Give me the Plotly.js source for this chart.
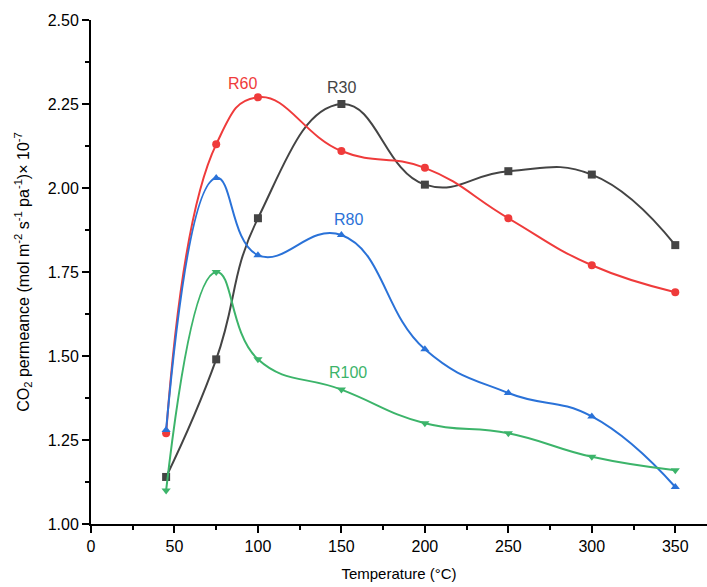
<!DOCTYPE html>
<html><head><meta charset="utf-8">
<script src="https://cdn.plot.ly/plotly-3.0.1.min.js"></script>
<style>body{margin:0;background:#fff}#c{width:707px;height:587px}</style>
</head><body><div id="c"></div>
<script>
const temps = [45, 75, 100, 150, 200, 250, 300, 350];
const r30 = [1.14, 1.49, 1.91, 2.25, 2.01, 2.05, 2.04, 1.83];
const r60 = [1.27, 2.13, 2.27, 2.11, 2.06, 1.91, 1.77, 1.69];
const r80 = [1.28, 2.03, 1.80, 1.86, 1.52, 1.39, 1.32, 1.11];
const r100 = [1.10, 1.75, 1.49, 1.40, 1.30, 1.27, 1.20, 1.16];
const names = ["R30", "R60", "R80", "R100"];

const colors = {R30: "#444444", R60: "#ef3b3b", R80: "#2a72d8", R100: "#3cb46a"};
const symbols = {R30: "square", R60: "circle", R80: "triangle-up", R100: "triangle-down"};
const series = {R30: r30, R60: r60, R80: r80, R100: r100};

const traces = names.map(n => ({
  x: temps, y: series[n], name: n, type: "scatter", mode: "lines+markers",
  line: {color: colors[n], width: 2, shape: "spline", smoothing: 1.3},
  marker: {color: colors[n], symbol: symbols[n], size: 8},
  cliponaxis: false
}));

const labelPos = {R60: [91, 2.31], R30: [150, 2.30], R80: [154, 1.905], R100: [154, 1.452]};
const annotations = names.map(n => ({
  x: labelPos[n][0], y: labelPos[n][1], text: n, showarrow: false,
  font: {family: "Liberation Sans, Arial, sans-serif", size: 16, color: colors[n]}
}));

const layout = {
  width: 707, height: 587,
  margin: {l: 91, r: 0, t: 20, b: 63},
  paper_bgcolor: "#fff", plot_bgcolor: "#fff",
  showlegend: false,
  font: {family: "Liberation Sans, Arial, sans-serif", size: 16, color: "#000"},
  xaxis: {
    range: [0, 369], tickmode: "linear", tick0: 0, dtick: 50,
    showgrid: false, zeroline: false, showline: true, linecolor: "#000", linewidth: 2,
    ticks: "outside", ticklen: 7, tickwidth: 2, tickcolor: "#000",
    minor: {dtick: 25, ticks: "outside", ticklen: 4, tickwidth: 2, tickcolor: "#000", showgrid: false},
    title: {text: "Temperature (°C)", standoff: 14, font: {size: 15}},
    tickfont: {size: 16}
  },
  yaxis: {
    range: [1.0, 2.5], tickmode: "linear", tick0: 1.0, dtick: 0.25, tickformat: ".2f",
    showgrid: false, zeroline: false, showline: true, linecolor: "#000", linewidth: 2,
    ticks: "outside", ticklen: 7, tickwidth: 2, tickcolor: "#000",
    minor: {dtick: 0.125, ticks: "outside", ticklen: 4, tickwidth: 2, tickcolor: "#000", showgrid: false},
    title: {text: "CO<sub>2</sub> permeance (mol m<sup>-2</sup> s<sup>-1</sup> pa<sup>-1</sup>)× 10<sup>-7</sup>", standoff: 14, font: {size: 16}},
    tickfont: {size: 16}
  },
  annotations: annotations
};

Plotly.newPlot("c", traces, layout, {displayModeBar: false, staticPlot: true});
</script></body></html>
